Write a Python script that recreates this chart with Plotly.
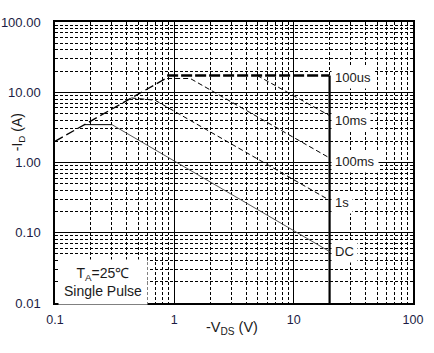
import plotly.graph_objects as go
import numpy as np

# ---- data ----
rds_v = [0.1, 0.87]
rds_i = [2.0, 16.1]

us100_v = [0.87, 20.0]
us100_i = [17.3, 17.3]

ms10_v = [4.95, 20.0]
ms10_i = [17.3, 4.65]

ms100_v = [0.87, 1.36, 20.0]
ms100_i = [15.7, 15.7, 1.16]

s1_v = [0.436, 0.69, 20.0]
s1_i = [8.3, 7.7, 0.29]

dc_flat_v = [0.178, 0.30]
dc_flat_i = [3.46, 3.46]
dc_v = [0.30, 20.0]
dc_i = [3.46, 0.054]

curve_labels = ["100us", "10ms", "100ms", "1s", "DC"]
label_end_i = [us100_i[-1], ms10_i[-1], ms100_i[-1], s1_i[-1], dc_i[-1]]
label_yshift = [-2, -5, -4, -2, 0]

x_ticks = [0.1, 1, 10, 100]
x_ticktext = ["0.1", "1", "10", "100"]
y_ticks = [0.01, 0.1, 1, 10, 100]
y_ticktext = ["0.01", "0.10", "1.00", "10.00", "100.00"]

FONT = "Liberation Sans, Arial, sans-serif"

def minor_vals(lo, hi):
    vals = []
    for d in range(lo, hi):
        for k in range(2, 10):
            vals.append(k * 10.0 ** d)
    return vals

fig = go.Figure()

fig.add_trace(go.Scatter(x=rds_v, y=rds_i, mode="lines",
                         line=dict(color="black", width=1.3, dash="9px,4px")))
fig.add_trace(go.Scatter(x=us100_v, y=us100_i, mode="lines",
                         line=dict(color="black", width=2.5, dash="11px,3px")))
fig.add_trace(go.Scatter(x=[us100_v[-1], us100_v[-1]], y=[us100_i[-1], y_ticks[0]], mode="lines",
                         line=dict(color="black", width=2.2)))
fig.add_trace(go.Scatter(x=ms10_v, y=ms10_i, mode="lines",
                         line=dict(color="black", width=1, dash="5px,3px")))
fig.add_trace(go.Scatter(x=ms100_v, y=ms100_i, mode="lines",
                         line=dict(color="black", width=1, dash="5px,3px")))
fig.add_trace(go.Scatter(x=s1_v, y=s1_i, mode="lines",
                         line=dict(color="black", width=1, dash="5px,3px")))
fig.add_trace(go.Scatter(x=dc_flat_v, y=dc_flat_i, mode="lines",
                         line=dict(color="black", width=1)))
fig.add_trace(go.Scatter(x=dc_v, y=dc_i, mode="lines",
                         line=dict(color="#555555", width=1)))

for lab, yi, ys in zip(curve_labels, label_end_i, label_yshift):
    fig.add_annotation(x=np.log10(us100_v[-1]), y=np.log10(yi), xref="x", yref="y",
                       text=lab, showarrow=False, xanchor="left", yanchor="middle",
                       xshift=1, yshift=ys, bgcolor="white", borderpad=3,
                       font=dict(family=FONT, size=13, color="#1a1a1a"))

fig.add_annotation(x=0.133, y=0.075, xref="paper", yref="paper",
                   text="T<sub>A</sub>=25\u2103<br>Single Pulse", showarrow=False,
                   xanchor="center", yanchor="middle", bgcolor="white", borderpad=5,
                   font=dict(family=FONT, size=14, color="#1a1a1a"))

fig.add_annotation(x=-0.103, y=0.608, xref="paper", yref="paper",
                   text="-I<sub>D</sub> (A)", showarrow=False, textangle=-90,
                   xanchor="center", yanchor="middle",
                   font=dict(family=FONT, size=14, color="#1a1a1a"))
fig.add_annotation(x=0.495, y=-0.089, xref="paper", yref="paper",
                   text="-V<sub>DS</sub> (V)", showarrow=False,
                   xanchor="center", yanchor="middle",
                   font=dict(family=FONT, size=14.5, color="#1a1a1a"))

axis_common = dict(type="log", showline=True, linecolor="black", linewidth=1.5, mirror=True,
                   showgrid=True, gridcolor="black", gridwidth=1, zeroline=False,
                   ticks="", tickmode="array", automargin=False)

fig.update_xaxes(range=[-1, 2], tickvals=x_ticks, ticktext=x_ticktext,
                 ticklabelstandoff=4,
                 tickfont=dict(family=FONT, size=12.5, color="#1c1c44"),
                 minor=dict(tickmode="array", tickvals=minor_vals(-1, 2), showgrid=True,
                            gridcolor="black", gridwidth=1, griddash="3px,2px", ticks=""),
                 **axis_common)
fig.update_yaxes(range=[-2, 2], tickvals=y_ticks, ticktext=y_ticktext,
                 ticklabelstandoff=10,
                 tickfont=dict(family=FONT, size=13, color="#1c1c44"),
                 minor=dict(tickmode="array", tickvals=minor_vals(-2, 2), showgrid=True,
                            gridcolor="black", gridwidth=1, griddash="3px,2px", ticks=""),
                 **axis_common)

fig.update_layout(width=434, height=353, showlegend=False,
                  margin=dict(l=55, r=21, t=22, b=50, autoexpand=False),
                  paper_bgcolor="white", plot_bgcolor="white")

fig.write_html("out.html")
